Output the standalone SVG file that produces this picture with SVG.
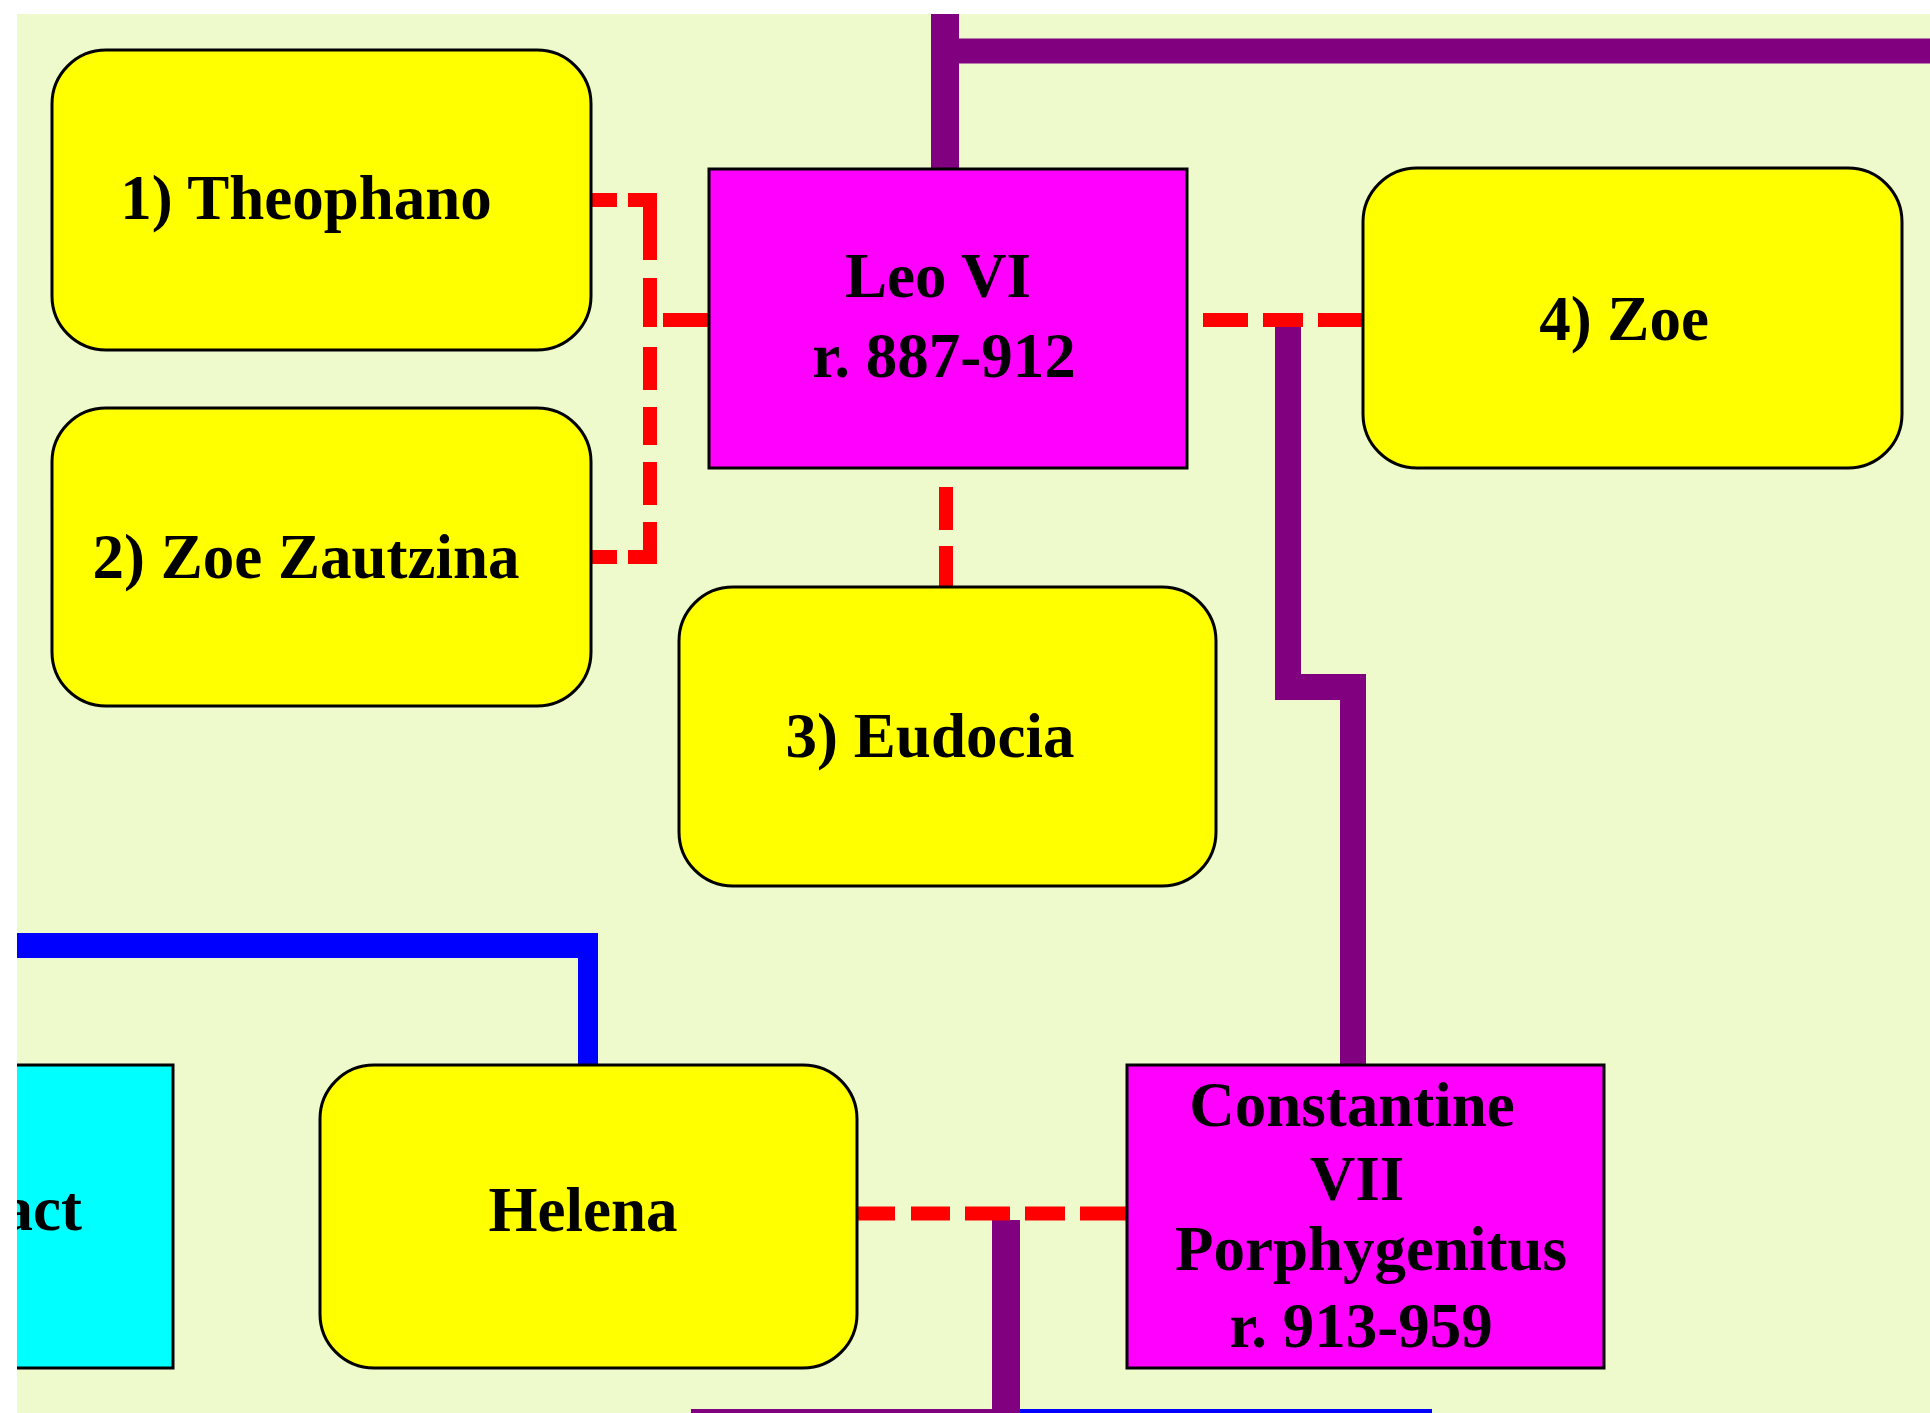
<svg xmlns="http://www.w3.org/2000/svg" width="1930" height="1413" viewBox="0 0 1930 1413">
  <defs>
    <clipPath id="area">
      <rect x="17" y="14" width="1913" height="1399"/>
    </clipPath>
    <style>
      .spouse { fill: #FFFF00; stroke: #000000; stroke-width: 3; }
      .ruler { fill: #FF00FF; stroke: #000000; stroke-width: 3; }
      .other { fill: #00FFFF; stroke: #000000; stroke-width: 3; }
      .lbl { font-family: "Liberation Serif", "Times New Roman", serif; font-weight: bold; font-size: 63px; fill: #000000; text-anchor: middle; }
      .purple { fill: none; stroke: #800080; stroke-linejoin: miter; stroke-linecap: butt; }
      .blue { fill: none; stroke: #0000FF; stroke-linecap: butt; }
      .marriage { fill: none; stroke: #FF0000; stroke-width: 14; stroke-linecap: butt; stroke-linejoin: miter; }
    </style>
  </defs>
  <rect x="0" y="0" width="1930" height="1413" fill="#FFFFFF"/>
  <rect x="17" y="14" width="1913" height="1399" fill="#EEFACC"/>
  <g clip-path="url(#area)">
    <g id="connectors">
      <line class="purple" x1="945" y1="0" x2="945" y2="170" stroke-width="28"/>
      <line class="purple" x1="931" y1="51" x2="1930" y2="51" stroke-width="25"/>
      <path class="purple" d="M1288,327 V687 H1353 V1066" stroke-width="26"/>
      <line class="purple" x1="1006" y1="1220" x2="1006" y2="1413" stroke-width="28"/>
      <line class="purple" x1="691" y1="1422" x2="1020" y2="1422" stroke-width="26"/>
      <line class="blue" x1="1020" y1="1422" x2="1432" y2="1422" stroke-width="26"/>
      <line class="blue" x1="0" y1="945.5" x2="598" y2="945.5" stroke-width="25"/>
      <line class="blue" x1="588" y1="945" x2="588" y2="1066" stroke-width="20"/>
      <path class="marriage" d="M590,200 H650 V557 H590" stroke-dasharray="0 2 25 11 82 18 49 20 43 17 38 17 43 17 57 11 25 2"/>
      <line class="marriage" x1="663" y1="320" x2="709" y2="320"/>
      <line class="marriage" x1="1365" y1="320" x2="1188" y2="320" stroke-dasharray="47 15 40 15 45 15"/>
      <line class="marriage" x1="946" y1="587" x2="946" y2="468" stroke-width="10" stroke-dasharray="41 16 43 19"/>
      <line class="marriage" x1="1127" y1="1213.5" x2="857" y2="1213.5" stroke-width="13" stroke-dasharray="47 15 40 15 45 15 39 16 38 0"/>
    </g>
    <g id="theophano">
      <rect class="spouse" x="52" y="50" width="539" height="300" rx="54" ry="54"/>
      <text class="lbl" x="306" y="219">1) Theophano</text>
    </g>
    <g id="zoe-zautzina">
      <rect class="spouse" x="52" y="408" width="539" height="298" rx="54" ry="54"/>
      <text class="lbl" x="306" y="578">2) Zoe Zautzina</text>
    </g>
    <g id="leo-vi">
      <rect class="ruler" x="709" y="169" width="478" height="299"/>
      <text class="lbl" x="938" y="297">Leo VI</text>
      <text class="lbl" x="944" y="377">r. 887-912</text>
    </g>
    <g id="zoe">
      <rect class="spouse" x="1363" y="168" width="539" height="300" rx="54" ry="54"/>
      <text class="lbl" x="1624" y="340">4) Zoe</text>
    </g>
    <g id="eudocia">
      <rect class="spouse" x="679" y="587" width="537" height="299" rx="54" ry="54"/>
      <text class="lbl" x="930" y="757">3) Eudocia</text>
    </g>
    <g id="cyan-node">
      <rect class="other" x="-370" y="1065" width="543" height="303"/>
      <text class="lbl" x="82" y="1230" style="text-anchor:end">act</text>
    </g>
    <g id="helena">
      <rect class="spouse" x="320" y="1065" width="537" height="303" rx="54" ry="54"/>
      <text class="lbl" x="583" y="1231">Helena</text>
    </g>
    <g id="constantine-vii">
      <rect class="ruler" x="1127" y="1065" width="477" height="303"/>
      <text class="lbl" x="1352" y="1126">Constantine</text>
      <text class="lbl" x="1357" y="1200">VII</text>
      <text class="lbl" x="1371" y="1270">Porphygenitus</text>
      <text class="lbl" x="1361" y="1347">r. 913-959</text>
    </g>
  </g>
</svg>
